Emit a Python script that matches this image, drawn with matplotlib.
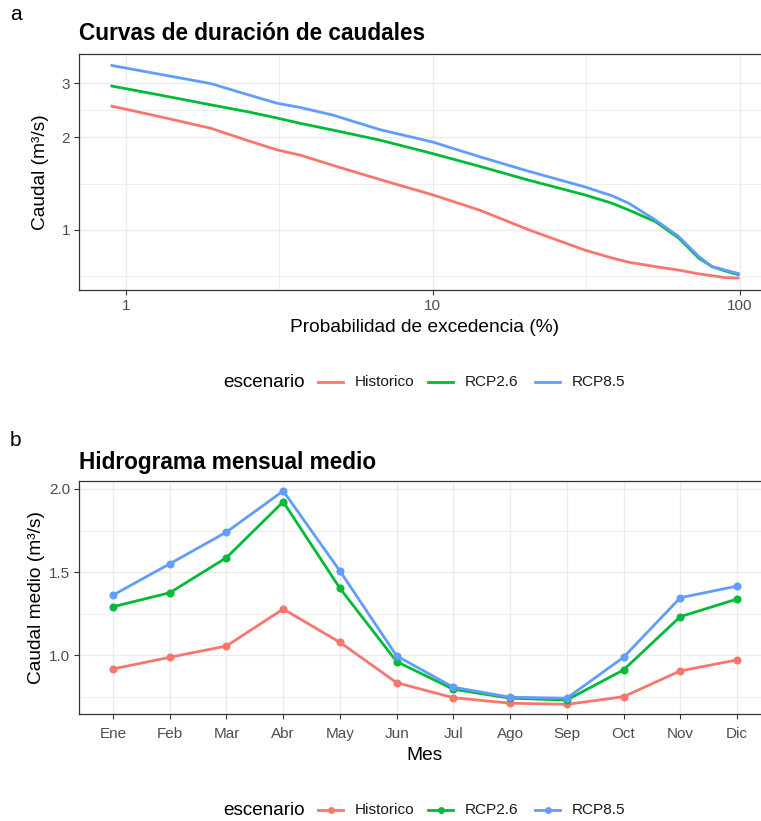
import matplotlib
matplotlib.use("Agg")
import matplotlib.pyplot as plt
from matplotlib.lines import Line2D
import numpy as np

# ---------------- data ----------------
escenarios = ["Historico", "RCP2.6", "RCP8.5"]
colores = ["#F8766D", "#00BA38", "#619CFF"]

prob_exc = [0.89, 1.3, 1.89, 2.5, 3.11, 3.7, 4.74, 6.7, 10, 14.2, 20.6, 31.3,
            38.5, 43.6, 53.2, 63.4, 73.6, 81.3, 90, 100]
q_hist = [2.53, 2.33, 2.14, 1.95, 1.82, 1.75, 1.62, 1.46, 1.30, 1.16, 1.00, 0.86,
          0.81, 0.785, 0.76, 0.74, 0.72, 0.71, 0.70, 0.697]
q_rcp26 = [2.94, 2.74, 2.55, 2.42, 2.31, 2.22, 2.11, 1.96, 1.77, 1.61, 1.45, 1.30,
           1.22, 1.16, 1.064, 0.94, 0.81, 0.76, 0.735, 0.714]
q_rcp85 = [3.43, 3.20, 2.99, 2.75, 2.58, 2.50, 2.36, 2.12, 1.93, 1.73, 1.55, 1.38,
           1.29, 1.22, 1.077, 0.951, 0.82, 0.76, 0.74, 0.72]

meses = ["Ene", "Feb", "Mar", "Abr", "May", "Jun", "Jul", "Ago", "Sep", "Oct", "Nov", "Dic"]
m_hist = [0.918, 0.988, 1.056, 1.278, 1.078, 0.835, 0.745, 0.712, 0.705, 0.751, 0.906, 0.972]
m_rcp26 = [1.292, 1.376, 1.587, 1.923, 1.403, 0.962, 0.796, 0.742, 0.731, 0.912, 1.232, 1.338]
m_rcp85 = [1.362, 1.550, 1.741, 1.988, 1.507, 0.996, 0.808, 0.748, 0.742, 0.988, 1.346, 1.416]

# ---------------- style ----------------
plt.rcParams['font.family'] = ['Liberation Sans', 'DejaVu Sans']
W, H = 761, 821
fig = plt.figure(figsize=(W / 100, H / 100), dpi=100)

GRID = "#EBEBEB"
TICKC = "#4D4D4D"
FRAME = "#333333"
TICK_FS = 11
LAB_FS = 13.8
TITLE_FS = 16.3


def style_axes(ax, xpad=3):
    for s in ax.spines.values():
        s.set_color(FRAME)
        s.set_linewidth(0.9)
    ax.tick_params(axis="both", which="major", length=3.5, width=0.8, color=FRAME,
                   labelsize=TICK_FS, labelcolor=TICKC, pad=3)
    ax.tick_params(axis="x", which="major", pad=xpad)
    ax.tick_params(axis="both", which="minor", length=0)
    ax.set_axisbelow(True)


def fx(px):
    return px / W


def fy(py):
    return 1 - py / H


# ---------------- panel a ----------------
ax1 = fig.add_axes([fx(79), fy(290), fx(771 - 79), (290 - 54) / H])
series_a = [q_hist, q_rcp26, q_rcp85]
for vals, c in zip(series_a, colores):
    ax1.plot(prob_exc, vals, color=c, lw=2.0, solid_capstyle="butt")
ax1.set_xscale("log")
ax1.set_yscale("log")
ax1.set_xlim(0.703, 126.6)
ax1.set_ylim(0.638, 3.73)
ax1.set_xticks([1, 10, 100])
ax1.set_xticklabels(["1", "10", "100"])
ax1.set_xticks([np.sqrt(10), np.sqrt(1000)], minor=True)
ax1.set_yticks([1, 2, 3])
ax1.set_yticklabels(["1", "2", "3"])
ax1.set_yticks([np.sqrt(0.5), np.sqrt(2), np.sqrt(6)], minor=True)
ax1.yaxis.set_minor_formatter(matplotlib.ticker.NullFormatter())
ax1.xaxis.set_minor_formatter(matplotlib.ticker.NullFormatter())
ax1.grid(True, which="major", color=GRID, lw=1.0)
ax1.grid(True, which="minor", color=GRID, lw=0.6)
style_axes(ax1)
ax1.set_xlabel("Probabilidad de excedencia (%)", fontsize=LAB_FS, labelpad=4)
ax1.set_ylabel("Caudal (m³/s)", fontsize=LAB_FS, labelpad=9)
fig.text(fx(79), fy(33), "Curvas de duración de caudales", fontsize=TITLE_FS,
         fontweight="bold", va="center", ha="left")
fig.text(fx(10), fy(15), "a", fontsize=15, va="center", ha="left")

# ---------------- panel b ----------------
ax2 = fig.add_axes([fx(79), fy(714), fx(771 - 79), (714 - 481) / H])
x = np.arange(1, len(meses) + 1)
series_b = [m_hist, m_rcp26, m_rcp85]
for vals, c in zip(series_b, colores):
    ax2.plot(x, vals, color=c, lw=2.0, marker="o", markersize=5.8,
             markeredgewidth=0)
ax2.set_xlim(0.4, 12.6)
ax2.set_ylim(0.647, 2.048)
ax2.set_xticks(x)
ax2.set_xticklabels(meses)
ax2.set_yticks([1.0, 1.5, 2.0])
ax2.set_yticklabels(["1.0", "1.5", "2.0"])
ax2.set_yticks([0.75, 1.25, 1.75], minor=True)
ax2.grid(True, which="major", color=GRID, lw=1.0)
ax2.grid(True, which="minor", axis="y", color=GRID, lw=0.6)
style_axes(ax2, xpad=5.5)
ax2.set_xlabel("Mes", fontsize=LAB_FS, labelpad=4.5)
ax2.set_ylabel("Caudal medio (m³/s)", fontsize=LAB_FS, labelpad=3)
fig.text(fx(79), fy(462), "Hidrograma mensual medio", fontsize=TITLE_FS,
         fontweight="bold", va="center", ha="left")
fig.text(fx(10), fy(440), "b", fontsize=15, va="center", ha="left")


# ---------------- legends ----------------
def legend_row(yc, markers):
    fig.text(fx(223), fy(yc), "escenario", fontsize=13.6, va="center", ha="left")
    key_x = [318, 428, 535]
    for kx, lab, c in zip(key_x, escenarios, colores):
        xs = [fx(kx), fx(kx + 25)]
        fig.add_artist(Line2D(xs, [fy(yc), fy(yc)], color=c, lw=2.0,
                              transform=fig.transFigure))
        if markers:
            fig.add_artist(Line2D([fx(kx + 12.5)], [fy(yc)], color=c, marker="o",
                                  markersize=5, markeredgewidth=0,
                                  transform=fig.transFigure))
        fig.text(fx(kx + 37), fy(yc), lab, fontsize=11.1, va="center", ha="left",
                 color="#1A1A1A")


legend_row(382, False)
legend_row(810, True)

fig.savefig("out.png", dpi=100)
